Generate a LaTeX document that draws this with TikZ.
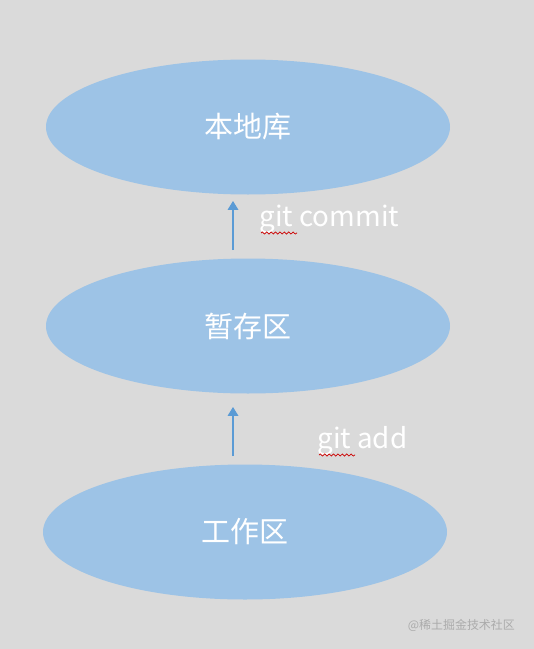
\documentclass[tikz,border=0pt]{standalone}
\usepackage{fontspec}
\usepackage{xcolor}
\usepackage{tikz}
\usetikzlibrary{positioning,shapes.geometric,arrows.meta,decorations.pathmorphing}
\newfontfamily\cjk{Noto Sans CJK SC}
\definecolor{stageBg}{HTML}{DADADA}
\definecolor{stageBlue}{HTML}{9DC3E6}
\definecolor{stageArrow}{HTML}{5B9BD5}
\definecolor{markGray}{HTML}{ABABAB}

\begin{document}
\begin{tikzpicture}[x=0.02cm,y=-0.02cm,
  area/.style={ellipse,fill=stageBlue,minimum width=404*0.02cm,minimum height=135*0.02cm,
    text=white,font=\cjk\fontsize{16.5}{18}\selectfont},
  cmd/.style={text=white,font=\cjk\fontsize{15.8}{17}\selectfont,inner sep=0pt},
  up/.style={stageArrow,line width=0.7pt,-{Triangle[length=5pt,width=6pt]}}]
  \fill[stageBg] (0,0) rectangle (534,649);
  \useasboundingbox (0,0) rectangle (534,649);
  % the three areas
  \node[area] (repo) at (248,127) {本地库};
  \node[area] (stage) at (248,326) {暂存区};
  \node[area] (work) at (245,532) {工作区};
  % arrows between them
  \coordinate (c1) at (233,250);
  \coordinate (c2) at (233,201);
  \coordinate (a1) at (233,456);
  \coordinate (a2) at (233,407);
  \draw[up] (c1) -- (c2);
  \draw[up] (a1) -- (a2);
  \node[cmd,anchor=west] (commit) at (259,219) {git commit};
  \node[cmd,anchor=west] (add) at (317,441) {git add};
  % spell check marks
  \draw[red!80!black,line width=0.4pt,decorate,decoration={snake,amplitude=0.6pt,segment length=2.5pt}]
    (261,233) -- (297,233);
  \draw[red!80!black,line width=0.4pt,decorate,decoration={snake,amplitude=0.6pt,segment length=2.5pt}]
    (319,455) -- (355,455);
  \node[text=markGray,font=\cjk\fontsize{6.8}{8}\selectfont,anchor=east] (mark) at (521,625) {@稀土掘金技术社区};
\end{tikzpicture}
\end{document}
